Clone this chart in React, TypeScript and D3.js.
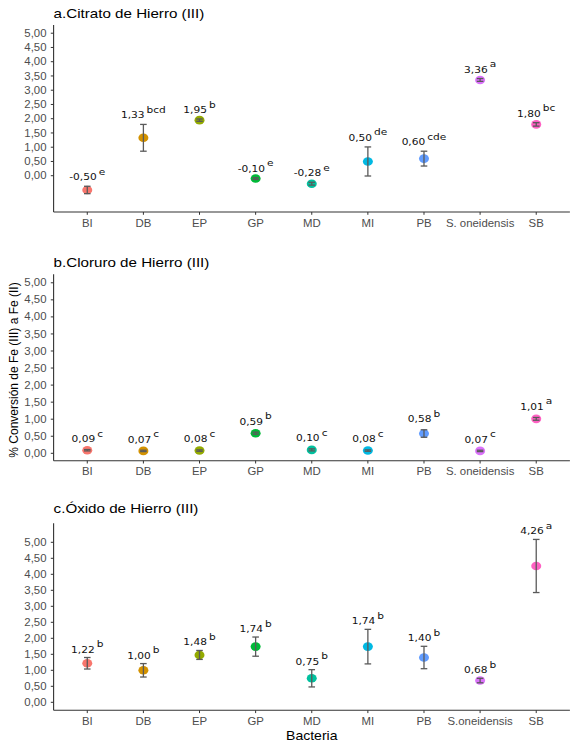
import React from "react";
import * as d3 from "d3";

const categories = ["BI", "DB", "EP", "GP", "MD", "MI", "PB", "S.oneidensis", "SB"];
const tickLabelsAB = ["BI", "DB", "EP", "GP", "MD", "MI", "PB", "S. oneidensis", "SB"];
const tickLabelsC = ["BI", "DB", "EP", "GP", "MD", "MI", "PB", "S.oneidensis", "SB"];
const colors = ["#F8766D", "#D39200", "#93AA00", "#00BA38", "#00C19F", "#00B9E3", "#619CFF", "#DB72FB", "#FF61C3"];

const valuesA = [-0.5, 1.33, 1.95, -0.1, -0.28, 0.5, 0.6, 3.36, 1.8];
const errorsA = [0.13, 0.47, 0.04, 0.03, 0.05, 0.51, 0.26, 0.05, 0.06];
const lettersA = ["e", "bcd", "b", "e", "e", "de", "cde", "a", "bc"];

const valuesB = [0.09, 0.07, 0.08, 0.59, 0.1, 0.08, 0.58, 0.07, 1.01];
const errorsB = [0.02, 0.02, 0.02, 0.03, 0.03, 0.02, 0.11, 0.02, 0.04];
const lettersB = ["c", "c", "c", "b", "c", "c", "b", "c", "a"];

const valuesC = [1.22, 1.0, 1.48, 1.74, 0.75, 1.74, 1.4, 0.68, 4.26];
const errorsC = [0.18, 0.21, 0.14, 0.3, 0.27, 0.54, 0.35, 0.07, 0.83];
const lettersC = ["b", "b", "b", "b", "b", "b", "b", "b", "a"];

const yTicks = [0, 0.5, 1, 1.5, 2, 2.5, 3, 3.5, 4, 4.5, 5];

const W = 577;
const H = 748;
const SX = 1.14;
const LEFT = 53.6;
const RIGHT = 569.9;
const fmt = (v: number) => v.toFixed(2).replace(".", ",");

const panels = [
  { title: "a.Citrato de Hierro (III)", titleY: 18, top: 25, bottom: 212, domain: [-1.273, 5.288], values: valuesA, errors: errorsA, letters: lettersA, ticks: tickLabelsAB, offset: 6 },
  { title: "b.Cloruro de Hierro (III)", titleY: 267, top: 274.3, bottom: 460.7, domain: [-0.217, 5.249], values: valuesB, errors: errorsB, letters: lettersB, ticks: tickLabelsAB, offset: 7.5 },
  { title: "c.Óxido de Hierro (III)", titleY: 513, top: 523.3, bottom: 710.3, domain: [-0.25, 5.594], values: valuesC, errors: errorsC, letters: lettersC, ticks: tickLabelsC, offset: 5 },
];

function SText({ x, y, size, anchor = "start", fill = "#000", family = "Liberation Sans, Arial, sans-serif", children, rotate = false }: any) {
  const tr = rotate ? `translate(${x},${y}) scale(${SX},1) rotate(-90)` : `translate(${x},${y}) scale(${SX},1)`;
  return (
    <text transform={tr} fontSize={size} textAnchor={anchor} fill={fill} fontFamily={family} style={{ whiteSpace: "pre" }}>
      {children}
    </text>
  );
}

function Panel({ p }: any) {
  const x = d3.scalePoint<string>().domain(categories).range([LEFT, RIGHT]).padding(0.6);
  const y = d3.scaleLinear().domain(p.domain).range([p.bottom, p.top]);
  return (
    <g>
      <SText x={LEFT} y={p.titleY} size={13.3}>{p.title}</SText>
      <line x1={LEFT} x2={LEFT} y1={p.top} y2={p.bottom} stroke="#333" strokeWidth={1.1} />
      <line x1={LEFT} x2={RIGHT} y1={p.bottom} y2={p.bottom} stroke="#333" strokeWidth={1.1} />
      {yTicks.map((t) => (
        <g key={t}>
          <line x1={LEFT - 2.8} x2={LEFT} y1={y(t)} y2={y(t)} stroke="#333" strokeWidth={1} />
          <SText x={46.5} y={y(t) + 3.6} size={10} anchor="end" fill="#4d4d4d">{fmt(t)}</SText>
        </g>
      ))}
      {categories.map((c, i) => (
        <g key={c}>
          <line x1={x(c)} x2={x(c)} y1={p.bottom} y2={p.bottom + 2.8} stroke="#333" strokeWidth={1} />
          <SText x={x(c)} y={p.bottom + 14.7} size={10} anchor="middle" fill="#4d4d4d">{p.ticks[i]}</SText>
        </g>
      ))}
      {categories.map((c, i) => {
        const v = p.values[i];
        const e = p.errors[i];
        const cx = x(c) as number;
        return (
          <g key={"pt" + c}>
            <ellipse cx={cx} cy={y(v)} rx={5} ry={4.3} fill={colors[i]} />
            <line x1={cx} x2={cx} y1={y(v - e)} y2={y(v + e)} stroke="#5a5a5a" strokeWidth={1.3} />
            <line x1={cx - 3.3} x2={cx + 3.3} y1={y(v - e)} y2={y(v - e)} stroke="#5a5a5a" strokeWidth={1.3} />
            <line x1={cx - 3.3} x2={cx + 3.3} y1={y(v + e)} y2={y(v + e)} stroke="#5a5a5a" strokeWidth={1.3} />
            <SText x={cx} y={y(v + e) - p.offset} size={9.3} anchor="middle" fill="#111" family="DejaVu Sans, Verdana, sans-serif">
              <tspan>{fmt(v)}</tspan>
              <tspan dx={1.8} dy={-5.5}>{p.letters[i]}</tspan>
            </SText>
          </g>
        );
      })}
    </g>
  );
}

export default function App() {
  return (
    <svg width={W} height={H} viewBox={`0 0 ${W} ${H}`} style={{ position: "absolute", left: 0, top: 0, background: "#fff" }}>
      <rect width={W} height={H} fill="#fff" />
      {panels.map((p) => (
        <Panel key={p.title} p={p} />
      ))}
      <SText x={18.3} y={370} size={12} anchor="middle" rotate>% Conversión de Fe (III) a Fe (II)</SText>
      <SText x={(LEFT + RIGHT) / 2} y={740} size={12.3} anchor="middle">Bacteria</SText>
    </svg>
  );
}
